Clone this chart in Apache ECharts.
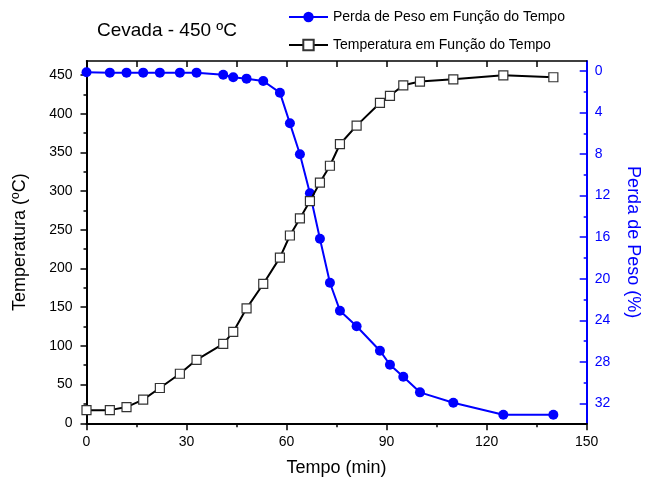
<!DOCTYPE html>
<html>
<head>
<meta charset="utf-8">
<script src="https://cdn.jsdelivr.net/npm/echarts@6/dist/echarts.min.js"></script>
<style>
  html, body { margin: 0; padding: 0; background: #fff; }
  #chart { width: 645px; height: 487px; }
</style>
</head>
<body>
<div id="chart"></div>
<script>
// Sampling times (min)
const tempo = [0, 7, 12, 17, 22, 28, 33, 41, 44, 48, 53, 58, 61, 64, 67, 70, 73, 76, 81, 88, 91, 95, 100, 110, 125, 140];
// Temperature (ºC)
const temperatura = [17, 17, 21, 30.5, 45.6, 64, 82, 102.5, 118, 148.5, 180, 214, 242.6, 264.6, 287, 311, 332.7, 360.5, 384.5, 413.8, 423, 436.6, 441.4, 444.3, 449.5, 447];
// Weight loss (%)
const perdaPeso = [0.13, 0.16, 0.16, 0.16, 0.16, 0.16, 0.16, 0.36, 0.61, 0.74, 0.96, 2.09, 5.04, 8.02, 11.78, 16.15, 20.39, 23.08, 24.58, 26.93, 28.28, 29.44, 30.94, 31.94, 33.1, 33.1];

// Axis tick values
const xTopTicks = [15, 30, 45, 60, 75, 90, 105, 120, 135];
const tempTicks = [0, 50, 100, 150, 200, 250, 300, 350, 400, 450];
const tempMinor = [25, 75, 125, 175, 225, 275, 325, 375, 425];
const pesoTicks = [0, 4, 8, 12, 16, 20, 24, 28, 32];
const pesoMinor = [2, 6, 10, 14, 18, 22, 26, 30];

const FONT = '"Liberation Sans", Arial, sans-serif';
const BLUE = '#0000ff';
const TEMP_RANGE = [0, 468];
const PESO_RANGE = [-0.96, 33.92];

const chart = echarts.init(document.getElementById('chart'));

const pairs = (xs, ys) => xs.map((x, i) => [x, ys[i]]);
const plotArea = { left: 86.5, right: 58.3, top: 61, bottom: 63.7, containLabel: false, outerBoundsMode: 'none' };

chart.setOption({
  animation: false,
  backgroundColor: '#fff',
  textStyle: { fontFamily: FONT },
  title: {
    text: 'Cevada - 450 ºC',
    left: 92, top: 16,
    textStyle: { fontFamily: FONT, fontSize: 19, fontWeight: 'normal', color: '#000' }
  },
  legend: {
    orient: 'vertical',
    left: 288, top: 10, padding: 0,
    itemWidth: 39, itemHeight: 13,
    itemGap: 14,
    textStyle: { fontFamily: FONT, fontSize: 14, color: '#000' },
    data: ['Perda de Peso em Função do Tempo', 'Temperatura em Função do Tempo']
  },
  // grid 0 holds the data and main axes, grid 1 only the minor ticks
  grid: [Object.assign({}, plotArea), Object.assign({}, plotArea)],
  xAxis: [
    {
      gridIndex: 0, type: 'value', position: 'bottom', min: 0, max: 150, interval: 30,
      name: 'Tempo (min)', nameLocation: 'middle', nameGap: 36,
      nameTextStyle: { fontFamily: FONT, fontSize: 18, color: '#000' },
      axisLine: { show: true, onZero: false, lineStyle: { color: '#000', width: 2 } },
      axisTick: { show: true, inside: false, length: 7, lineStyle: { color: '#000', width: 1.5 } },
      minorTick: { show: true, splitNumber: 2, length: 4, lineStyle: { color: '#000', width: 1.5 } },
      axisLabel: { fontFamily: FONT, fontSize: 14, color: '#000', margin: 12 },
      splitLine: { show: false }
    },
    {
      gridIndex: 0, type: 'value', position: 'top', min: 0, max: 150,
      axisLine: { show: true, onZero: false, lineStyle: { color: '#000', width: 1.5 } },
      axisTick: { show: true, inside: true, length: 6, customValues: xTopTicks, lineStyle: { color: '#000', width: 1.5 } },
      axisLabel: { show: false },
      splitLine: { show: false }
    },
    {
      gridIndex: 1, type: 'value', position: 'bottom', min: 0, max: 150,
      axisLine: { show: false }, axisTick: { show: false }, axisLabel: { show: false },
      splitLine: { show: false }
    }
  ],
  yAxis: [
    {
      gridIndex: 0, type: 'value', position: 'left', min: TEMP_RANGE[0], max: TEMP_RANGE[1],
      name: 'Temperatura (ºC)', nameLocation: 'middle', nameGap: 57,
      nameTextStyle: { fontFamily: FONT, fontSize: 18, color: '#000' },
      axisLine: { show: true, onZero: false, lineStyle: { color: '#000', width: 2 } },
      axisTick: { show: true, inside: false, length: 6, customValues: tempTicks, lineStyle: { color: '#000', width: 1.5 } },
      axisLabel: { fontFamily: FONT, fontSize: 14, color: '#000', margin: 14, customValues: tempTicks },
      splitLine: { show: false }
    },
    {
      gridIndex: 0, type: 'value', position: 'right', min: PESO_RANGE[0], max: PESO_RANGE[1], inverse: true,
      name: 'Perda de Peso (%)', nameLocation: 'middle', nameGap: 37, nameRotate: -90,
      nameTextStyle: { fontFamily: FONT, fontSize: 18, color: BLUE },
      axisLine: { show: true, onZero: false, lineStyle: { color: BLUE, width: 2 } },
      axisTick: { show: true, inside: true, length: 7, customValues: pesoTicks, lineStyle: { color: BLUE, width: 1.5 } },
      axisLabel: { fontFamily: FONT, fontSize: 14, color: BLUE, margin: 8, customValues: pesoTicks },
      splitLine: { show: false }
    },
    {
      gridIndex: 1, type: 'value', position: 'left', min: TEMP_RANGE[0], max: TEMP_RANGE[1],
      axisLine: { show: false },
      axisTick: { show: true, inside: false, length: 3, customValues: tempMinor, lineStyle: { color: '#000', width: 1.5 } },
      axisLabel: { show: false },
      splitLine: { show: false }
    },
    {
      gridIndex: 1, type: 'value', position: 'right', min: PESO_RANGE[0], max: PESO_RANGE[1], inverse: true,
      axisLine: { show: false },
      axisTick: { show: true, inside: true, length: 3, customValues: pesoMinor, lineStyle: { color: BLUE, width: 1.5 } },
      axisLabel: { show: false },
      splitLine: { show: false }
    }
  ],
  series: [
    {
      name: 'Perda de Peso em Função do Tempo',
      type: 'line', xAxisIndex: 0, yAxisIndex: 1,
      data: pairs(tempo, perdaPeso),
      symbol: 'circle', symbolSize: 10,
      itemStyle: { color: BLUE },
      lineStyle: { color: BLUE, width: 2 },
      z: 2
    },
    {
      name: 'Temperatura em Função do Tempo',
      type: 'line', xAxisIndex: 0, yAxisIndex: 0,
      data: pairs(tempo, temperatura),
      symbol: 'rect', symbolSize: 9,
      itemStyle: { color: '#fff', borderColor: '#333', borderWidth: 1.2 },
      lineStyle: { color: '#000', width: 2 },
      z: 3
    }
  ]
});
</script>
</body>
</html>
